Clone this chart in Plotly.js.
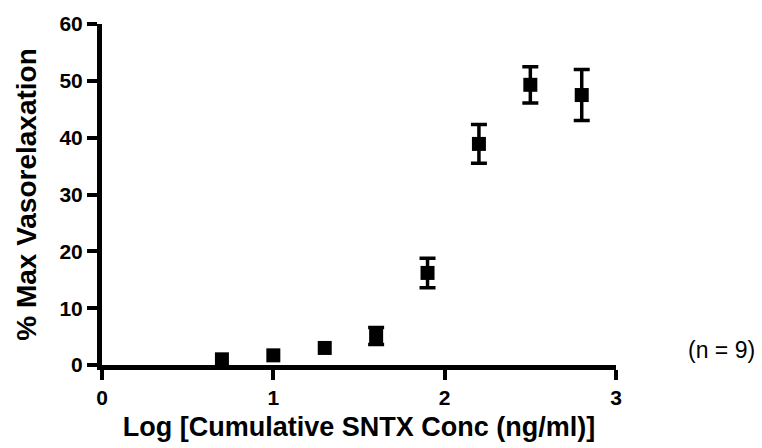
<!DOCTYPE html>
<html>
<head>
<meta charset="utf-8">
<script src="https://cdn.plot.ly/plotly-3.0.1.min.js"></script>
<style>html,body{margin:0;padding:0;background:#fff;}#chart{width:762px;height:448px;}</style>
</head>
<body>
<div id="chart"></div>
<script>
const logConc = [0.7, 1.0, 1.3, 1.6, 1.9, 2.2, 2.5, 2.8];
const maxVaso = [1.0, 1.7, 3.0, 5.1, 16.2, 38.9, 49.3, 47.5];
// error bars shorter than the symbol are not drawn in the original
const sem = [NaN, NaN, NaN, 1.5, 2.6, 3.4, 3.2, 4.5];
const xTicks = [0, 1, 2, 3];
const yTicks = [0, 10, 20, 30, 40, 50, 60];
const noteText = "(n = 9)";

const FONT = "Liberation Sans, Arial, sans-serif";

const trace = {
  x: logConc,
  y: maxVaso,
  type: "scatter",
  mode: "markers",
  cliponaxis: false,
  marker: {symbol: "square", size: 14, color: "#000"},
  error_y: {type: "data", array: sem, visible: true, color: "#000", thickness: 3.5, width: 8}
};

const layout = {
  width: 762, height: 448,
  margin: {l: 102, r: 146, t: 24, b: 83},
  paper_bgcolor: "#fff", plot_bgcolor: "#fff",
  showlegend: false,
  font: {family: FONT, color: "#000"},
  xaxis: {
    range: [0, 3], tickvals: xTicks, ticktext: xTicks.map(v => "<b>" + v + "</b>"),
    showgrid: false, zeroline: false, showline: true, linecolor: "#000", linewidth: 5,
    ticks: "outside", ticklen: 10, tickwidth: 4, tickcolor: "#000",
    tickfont: {family: FONT, size: 21, color: "#000"},
    title: {text: "<b>Log [Cumulative SNTX Conc (ng/ml)]</b>", font: {family: FONT, size: 27, color: "#000"}, standoff: 10}
  },
  yaxis: {
    range: [0, 60], tickvals: yTicks, ticktext: yTicks.map(v => "<b>" + v + "</b>"),
    showgrid: false, zeroline: false, showline: true, linecolor: "#000", linewidth: 5,
    ticks: "outside", ticklen: 10, tickwidth: 4, tickcolor: "#000",
    tickfont: {family: FONT, size: 21, color: "#000"},
    title: {text: "<b>% Max Vasorelaxation</b>", font: {family: FONT, size: 28, color: "#000"}, standoff: 16}
  },
  annotations: [{
    text: noteText, xref: "paper", yref: "paper", x: 1.136, y: 0.045,
    xanchor: "left", yanchor: "middle", showarrow: false,
    font: {family: FONT, size: 23, color: "#000"}
  }]
};

Plotly.newPlot("chart", [trace], layout, {displayModeBar: false, staticPlot: true});
</script>
</body>
</html>
